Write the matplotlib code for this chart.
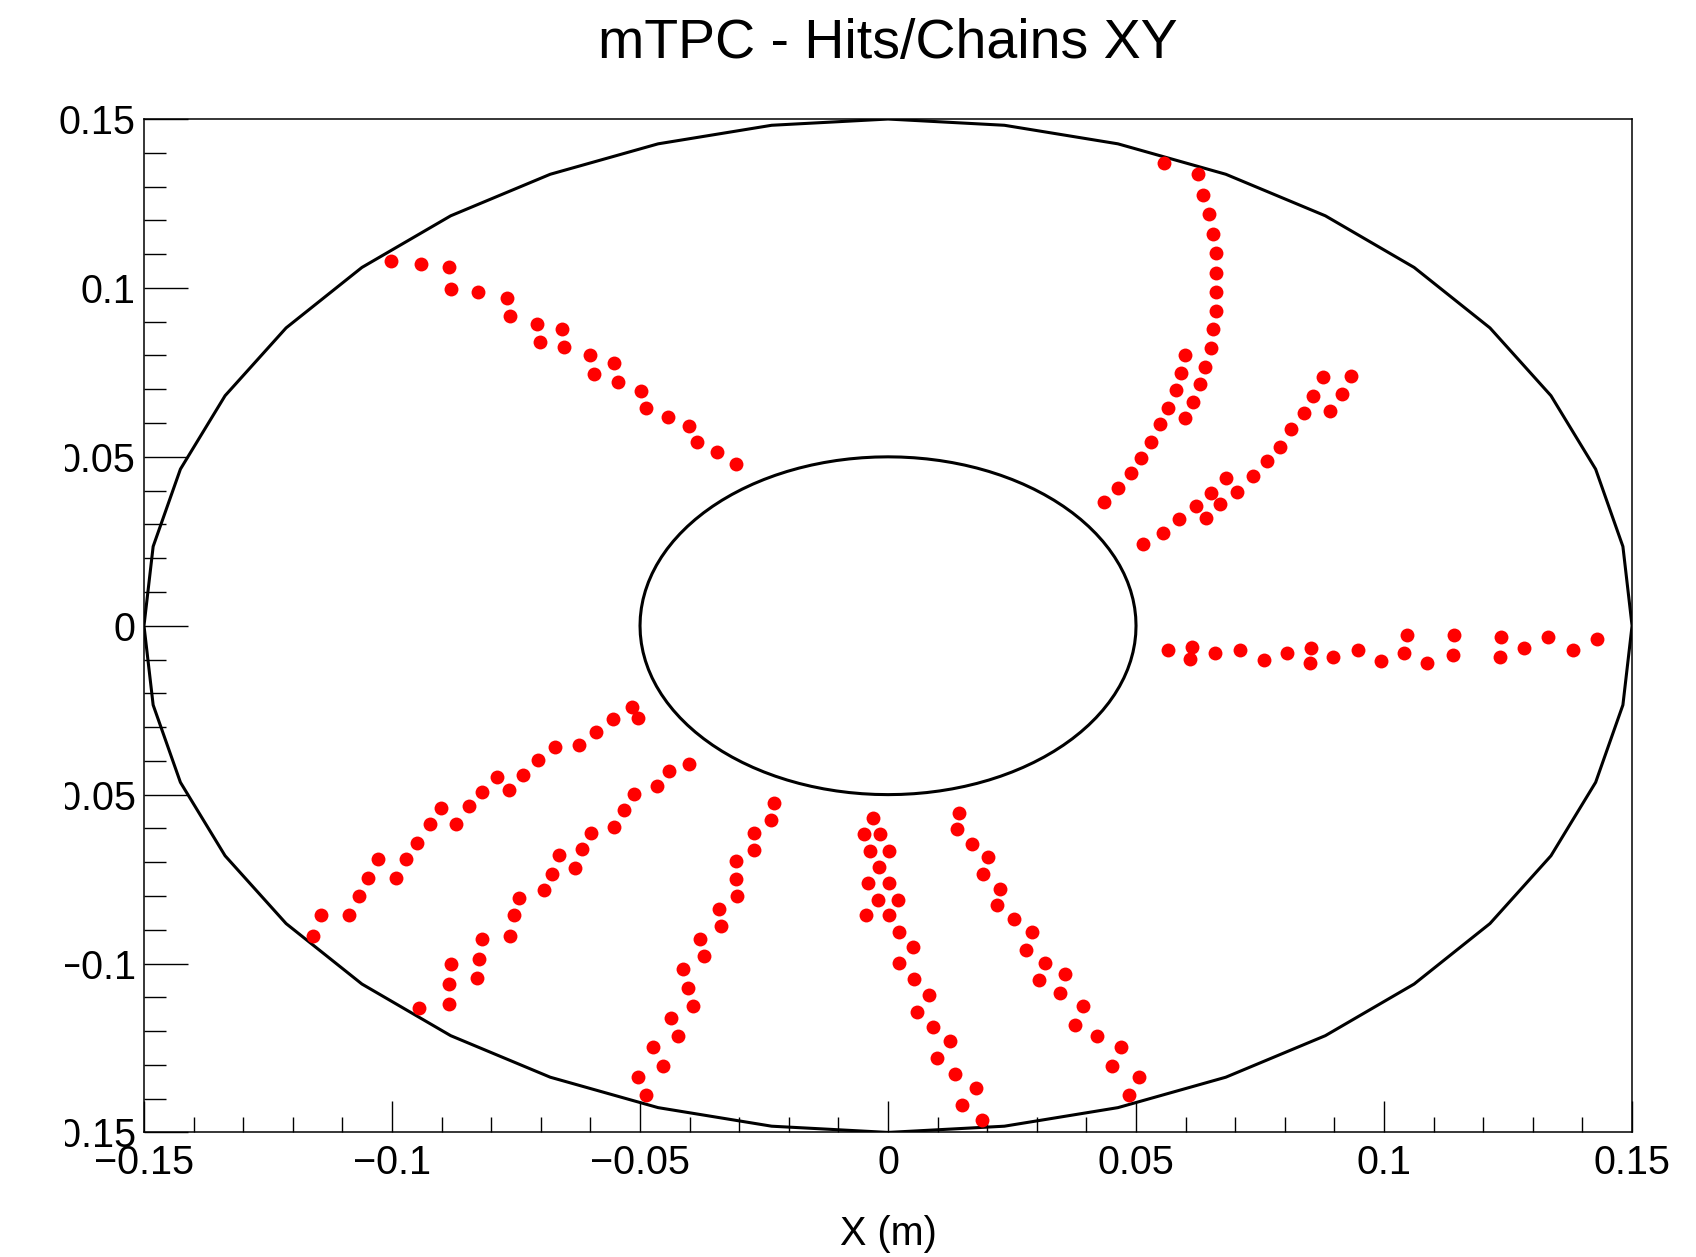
import numpy as np
import matplotlib
matplotlib.use("Agg")
import matplotlib.pyplot as plt
from matplotlib.ticker import MultipleLocator, FuncFormatter
from matplotlib.patches import Rectangle, Polygon

plt.rcParams['font.family'] = ['Liberation Sans', 'DejaVu Sans']

# detector geometry (m)
r_inner = 0.05
r_outer = 0.15

# hits, one pair of lists per chain
nw_x = [-0.1003, -0.0942, -0.0886, -0.0882, -0.0826, -0.0769, -0.0762, -0.0708, -0.0657, -0.0702, -0.0653,
        -0.0601, -0.0552, -0.0592, -0.0544, -0.0499, -0.0488, -0.0443, -0.0401, -0.0386, -0.0344, -0.0307]
nw_y = [0.1080, 0.1071, 0.1061, 0.0997, 0.0989, 0.0971, 0.0917, 0.0893, 0.0878, 0.0840, 0.0824,
        0.0800, 0.0778, 0.0745, 0.0722, 0.0695, 0.0646, 0.0618, 0.0591, 0.0543, 0.0513, 0.0480]

ne_out_x = [0.0557, 0.0624, 0.0636, 0.0647, 0.0655, 0.0661, 0.0661, 0.0661, 0.0661, 0.0655, 0.0651,
            0.0639, 0.0628, 0.0614, 0.0599]
ne_out_y = [0.1369, 0.1336, 0.1275, 0.1219, 0.1159, 0.1102, 0.1043, 0.0987, 0.0931, 0.0877, 0.0821,
            0.0766, 0.0715, 0.0663, 0.0614]

ne_in_x = [0.0599, 0.0591, 0.0580, 0.0565, 0.0548, 0.0530, 0.0511, 0.0489, 0.0463, 0.0436]
ne_in_y = [0.0801, 0.0747, 0.0697, 0.0646, 0.0596, 0.0544, 0.0498, 0.0453, 0.0408, 0.0365]

ene_x = [0.0515, 0.0554, 0.0587, 0.0621, 0.0641, 0.0651, 0.0669, 0.0681, 0.0703, 0.0735, 0.0764,
         0.0790, 0.0812, 0.0839, 0.0857, 0.0876, 0.0891, 0.0915, 0.0933]
ene_y = [0.0243, 0.0276, 0.0315, 0.0355, 0.0320, 0.0392, 0.0360, 0.0436, 0.0396, 0.0443, 0.0487,
         0.0530, 0.0581, 0.0630, 0.0680, 0.0735, 0.0635, 0.0685, 0.0740]

e_x = [0.0565, 0.0612, 0.0609, 0.0659, 0.0710, 0.0757, 0.0804, 0.0853, 0.0851, 0.0898, 0.0948, 0.0993,
       0.1046, 0.1041, 0.1087, 0.1142, 0.1140, 0.1236, 0.1233, 0.1282, 0.1330, 0.1380, 0.1429]
e_y = [-0.0073, -0.0063, -0.0097, -0.0082, -0.0071, -0.0100, -0.0082, -0.0065, -0.0110, -0.0094, -0.0071, -0.0104,
       -0.0028, -0.0082, -0.0109, -0.0026, -0.0088, -0.0033, -0.0094, -0.0067, -0.0033, -0.0073, -0.0040]

sw_out_x = [-0.0517, -0.0505, -0.0555, -0.0589, -0.0623, -0.0671, -0.0706, -0.0735, -0.0788, -0.0765, -0.0818,
            -0.0845, -0.0901, -0.0871, -0.0923, -0.0950, -0.0972, -0.1029, -0.0992, -0.1048, -0.1066, -0.1086,
            -0.1144, -0.1160]
sw_out_y = [-0.0240, -0.0272, -0.0277, -0.0314, -0.0352, -0.0359, -0.0396, -0.0441, -0.0448, -0.0485, -0.0492,
            -0.0535, -0.0540, -0.0586, -0.0586, -0.0642, -0.0690, -0.0690, -0.0746, -0.0746, -0.0800, -0.0857,
            -0.0857, -0.0919]

sw_in_x = [-0.0401, -0.0442, -0.0465, -0.0513, -0.0532, -0.0552, -0.0599, -0.0616, -0.0631, -0.0663, -0.0678,
           -0.0694, -0.0743, -0.0754, -0.0762, -0.0818, -0.0825, -0.0829, -0.0882, -0.0885, -0.0885, -0.0946]
sw_in_y = [-0.0408, -0.0431, -0.0475, -0.0497, -0.0546, -0.0596, -0.0614, -0.0662, -0.0717, -0.0678, -0.0734,
           -0.0783, -0.0806, -0.0855, -0.0919, -0.0926, -0.0988, -0.1042, -0.1000, -0.1060, -0.1119, -0.1132]

ssw_x = [-0.0229, -0.0236, -0.0270, -0.0270, -0.0307, -0.0307, -0.0304, -0.0341, -0.0337, -0.0379,
         -0.0370, -0.0413, -0.0404, -0.0394, -0.0438, -0.0424, -0.0473, -0.0454, -0.0505, -0.0488]
ssw_y = [-0.0525, -0.0576, -0.0614, -0.0663, -0.0697, -0.0751, -0.0801, -0.0840, -0.0889, -0.0928,
         -0.0978, -0.1017, -0.1072, -0.1127, -0.1160, -0.1215, -0.1247, -0.1304, -0.1336, -0.1390]

s_x = [-0.0030, -0.0048, -0.0016, -0.0036, 0.0002, -0.0018, -0.0041, 0.0002, -0.0021, 0.0021, -0.0044, 0.0001,
       0.0023, 0.0050, 0.0023, 0.0053, 0.0083, 0.0058, 0.0091, 0.0124, 0.0098, 0.0136, 0.0177, 0.0149, 0.0190]
s_y = [-0.0568, -0.0617, -0.0617, -0.0668, -0.0668, -0.0714, -0.0762, -0.0762, -0.0811, -0.0811, -0.0857, -0.0857,
       -0.0907, -0.0951, -0.0999, -0.1045, -0.1092, -0.1144, -0.1188, -0.1230, -0.1280, -0.1326, -0.1369, -0.1418,
       -0.1464]

sse_x = [0.0144, 0.0140, 0.0170, 0.0201, 0.0192, 0.0226, 0.0219, 0.0253, 0.0290, 0.0278, 0.0317,
         0.0304, 0.0357, 0.0347, 0.0393, 0.0376, 0.0422, 0.0470, 0.0452, 0.0505, 0.0486]
sse_y = [-0.0553, -0.0603, -0.0645, -0.0685, -0.0734, -0.0778, -0.0828, -0.0867, -0.0907, -0.0961, -0.0999,
         -0.1050, -0.1030, -0.1087, -0.1127, -0.1181, -0.1216, -0.1247, -0.1304, -0.1336, -0.1390]

chains = [(nw_x, nw_y), (ne_out_x, ne_out_y), (ne_in_x, ne_in_y), (ene_x, ene_y), (e_x, e_y),
          (sw_out_x, sw_out_y), (sw_in_x, sw_in_y), (ssw_x, ssw_y), (s_x, s_y), (sse_x, sse_y)]

fig = plt.figure(figsize=(16.96, 12.57), dpi=100)
ax = fig.add_axes([0.0849, 0.0991, 0.8774, 0.8062])

# detector walls: outer one is a coarse polygon like ROOT's TEllipse, inner one smooth
for r, n in ((r_outer, 40), (r_inner, 120)):
    phi = np.linspace(0, 2 * np.pi, n, endpoint=False)
    pts = np.column_stack([r * np.cos(phi), r * np.sin(phi)])
    ax.add_patch(Polygon(pts, closed=True, fill=False, edgecolor='black', lw=2.2,
                         joinstyle='round', zorder=2))

for cx, cy in chains:
    ax.plot(cx, cy, 'o', color='red', ms=10, mec='none', zorder=3)

ax.set_xlim(-0.15, 0.15)
ax.set_ylim(-0.15, 0.15)

fmt = FuncFormatter(lambda v, p: ('%g' % round(v, 4)).replace('-', '\u2212'))
ax.xaxis.set_major_locator(MultipleLocator(0.05))
ax.xaxis.set_minor_locator(MultipleLocator(0.01))
ax.yaxis.set_major_locator(MultipleLocator(0.05))
ax.yaxis.set_minor_locator(MultipleLocator(0.01))
ax.xaxis.set_major_formatter(fmt)
ax.yaxis.set_major_formatter(fmt)

ax.tick_params(axis='both', which='both', direction='in', labelsize=28.5, width=1.0,
               top=False, right=False)
ax.tick_params(axis='x', which='major', length=22, pad=8)
ax.tick_params(axis='x', which='minor', length=11)
ax.tick_params(axis='y', which='major', length=32, pad=6)
ax.tick_params(axis='y', which='minor', length=16)
for s in ax.spines.values():
    s.set_linewidth(1.1)

ax.set_title("mTPC - Hits/Chains XY", fontsize=40, pad=44)
ax.set_xlabel("X (m)", fontsize=28.5, labelpad=24)

# the left edge of the y labels is cut off in the original canvas
fig.add_artist(Rectangle((0, 0), 65 / 1696, 1 - 140 / 1257, transform=fig.transFigure,
                         facecolor='white', edgecolor='none', zorder=10))

fig.savefig("out.png", dpi=100)
